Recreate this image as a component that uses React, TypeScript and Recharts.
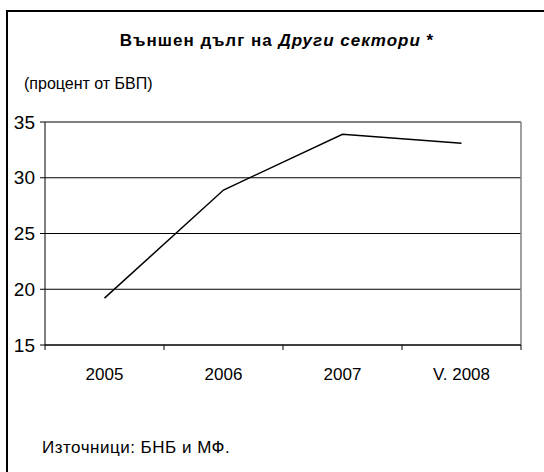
import React from "react";
import { LineChart, Line, XAxis, YAxis, CartesianGrid, ReferenceLine } from "recharts";

const categories = ["2005", "2006", "2007", "V. 2008"];
const values = [19.2, 28.9, 33.9, 33.1];
const yTicks = [15, 20, 25, 30, 35];

const data = categories.map((c, i) => ({ x: i + 0.5, name: c, value: values[i] }));

const W = 544;
const H = 472;
const LEFT = 45;
const RIGHT = 23;
const BAND = (W - LEFT - RIGHT) / categories.length;
const FONT = "'Liberation Sans', Arial, sans-serif";

function XTick(props: any) {
  const { x, y, payload } = props;
  const label = categories[payload.value];
  if (!label) return null;
  return (
    <text x={x + BAND / 2} y={y + 28} textAnchor="middle" fontSize={17} fontFamily={FONT} fill="#000">
      {label}
    </text>
  );
}

export default function App() {
  return (
    <div style={{ position: "absolute", left: 0, top: 0, width: W, height: H, background: "#fff", fontFamily: FONT, overflow: "hidden" }}>
      <div style={{ position: "absolute", left: 6, top: 10, width: W, height: H, borderLeft: "2px solid #000", borderTop: "2px solid #000" }} />
      <div style={{ position: "absolute", left: 0, width: 554, top: 31, textAlign: "center", fontSize: 17, fontWeight: "bold", letterSpacing: 1, color: "#000" }}>
        Външен дълг на <i>Други сектори</i> *
      </div>
      <div style={{ position: "absolute", left: 24, top: 75, fontSize: 16, color: "#000" }}>(процент от БВП)</div>
      <div style={{ position: "absolute", left: 42, top: 438, fontSize: 17, letterSpacing: 0.5, color: "#000" }}>Източници: БНБ и МФ.</div>
      <div style={{ position: "absolute", left: 0, top: 0 }}>
        <LineChart width={W} height={H} data={data} margin={{ top: 122, right: RIGHT, bottom: 97, left: 0 }}>
          <CartesianGrid vertical={false} stroke="#000" strokeOpacity={1} />
          <XAxis
            type="number"
            dataKey="x"
            domain={[0, 4]}
            ticks={[0, 1, 2, 3, 4]}
            height={30}
            stroke="#000"
            tickSize={5}
            tick={<XTick />}
            interval={0}
          />
          <YAxis
            type="number"
            domain={[15, 35]}
            ticks={yTicks}
            width={LEFT}
            stroke="#000"
            tickSize={5}
            tickMargin={5}
            interval={0}
            tick={{ fontSize: 19, fill: "#000", fontFamily: FONT }}
          />
          <ReferenceLine y={35} stroke="#808080" strokeWidth={1.5} />
          <ReferenceLine x={4} stroke="#808080" strokeWidth={1.5} />
          <Line type="linear" dataKey="value" stroke="#000" strokeWidth={1.5} dot={false} isAnimationActive={false} />
        </LineChart>
      </div>
    </div>
  );
}
